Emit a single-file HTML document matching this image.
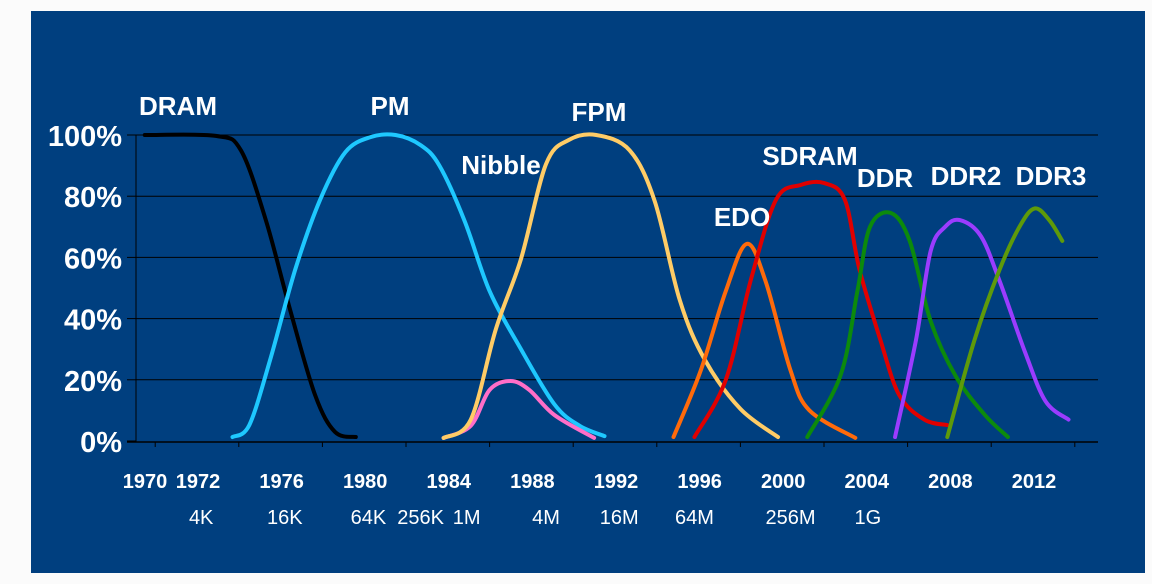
<!DOCTYPE html>
<html><head><meta charset="utf-8"><style>
html,body{margin:0;padding:0;background:#fbfbfb;}
svg{display:block;font-family:"Liberation Sans",sans-serif;}
</style></head><body>
<svg width="1152" height="584" viewBox="0 0 1152 584">
<rect x="31" y="11" width="1114" height="562" fill="#003F7F"/>
<g id="grid"></g>
<g id="axes"></g>
<g id="series"></g>
<g id="labels"></g>
</svg>
<script>
const yTicks = [0,20,40,60,80,100];
const yTickLabels = ["0%","20%","40%","60%","80%","100%"];
const xTickYears = [1970,1972,1976,1980,1984,1988,1992,1996,2000,2004,2008,2012];
const capacityLabels = ["4K","16K","64K","256K","1M","4M","16M","64M","256M","1G"];
const capacityYears = [1972.2,1976.2,1980.2,1982.7,1984.9,1988.7,1992.2,1995.8,2000.4,2004.1];

const seriesNames = ["DRAM","PM","Nibble","FPM","EDO","SDRAM","DDR","DDR2","DDR3"];
const seriesColors = ["#000000","#1EC8FF","#FF6EC8","#FFCC66","#FF6A0A","#E00000","#0C8A0C","#9B3CFF","#5E9A0A"];
const dramYears=[1969.5,1972.9,1974.1,1975.3,1976.45,1977.65,1978.6,1979.6];
const dramPct=[100,99.7,95,72,43,15,3,1.3];
const pmYears=[1973.7,1974.5,1975.5,1976.7,1977.9,1979.1,1980.3,1981.5,1982.7,1983.6,1984.8,1986.0,1987.5,1989.1,1990.3,1991.5];
const pmPct=[1.3,5.2,26.5,56,79,94.4,99.3,100,96.7,90,72,49,30,12,5,1.6];
const nibbleYears=[1983.8,1985.1,1986.0,1987.0,1987.9,1989.1,1991.0];
const nibblePct=[1,5,16.7,19.6,16.7,8.5,1];
const fpmYears=[1983.8,1985.1,1986.3,1987.5,1988.7,1989.8,1991.1,1992.7,1993.9,1995.1,1996.3,1998.0,1999.8];
const fpmPct=[1,7,36.6,59.5,90.5,98.4,100,95,78.4,46,26.5,10.5,1.3];
const edoYears=[1994.8,1996.1,1997.3,1998.3,1999.2,2000.4,2001.3,2003.5];
const edoPct=[1.3,23,49,64.4,52.3,23,10,1];
const sdramYears=[1995.8,1997.3,1998.5,1999.7,2000.9,2002.0,2003.0,2003.7,2004.7,2005.6,2006.8,2007.9];
const sdramPct=[1.3,20,52.6,78.8,83.7,84.3,78.8,56,33,15,7,5.2];
const ddrYears=[2001.2,2002.8,2003.6,2004.2,2005.2,2006.1,2007.1,2008.3,2009.7,2010.8];
const ddrPct=[1.3,21.6,49,70,74.5,65.4,39.2,21.2,8.5,1.3];
const ddr2Years=[2005.4,2006.4,2007.1,2007.8,2008.5,2009.5,2010.4,2011.6,2012.6,2013.7];
const ddr2Pct=[1.3,33,62,70,72.2,67,52.3,29.4,13,7];
const ddr3Years=[2007.9,2009.2,2010.4,2011.4,2012.1,2012.8,2013.4];
const ddr3Pct=[1.3,33,56,70.6,76,72,65.4];
const allYears=[dramYears,pmYears,nibbleYears,fpmYears,edoYears,sdramYears,ddrYears,ddr2Years,ddr3Years];
const allPct=[dramPct,pmPct,nibblePct,fpmPct,edoPct,sdramPct,ddrPct,ddr2Pct,ddr3Pct];

const NS="http://www.w3.org/2000/svg";
function X(yr){return 197+(yr-1972)*20.9;}
function Y(p){return 441-p*3.06;}
function mk(tag,attrs,parent){const e=document.createElementNS(NS,tag);for(const k in attrs)e.setAttribute(k,attrs[k]);parent.appendChild(e);return e;}
const grid=document.getElementById('grid'),axes=document.getElementById('axes'),series=document.getElementById('series'),labels=document.getElementById('labels');

yTicks.forEach((t,i)=>{
  if(t>0){const g=mk('line',{x1:136,x2:1098,y1:Y(t),y2:Y(t),stroke:'#000','stroke-width':1},grid);
  
  }
  const tk=mk('line',{x1:127,x2:136,y1:Y(t),y2:Y(t),stroke:'#000','stroke-width':1},axes);
  
  
  const tx=mk('text',{x:122,y:Y(t)+11,'text-anchor':'end',fill:'#fff','font-size':29,'font-weight':'bold'},labels);
  tx.textContent=yTickLabels[i];
  
  
});
const ya=mk('line',{x1:136,x2:136,y1:Y(100),y2:Y(0)+1,stroke:'#000','stroke-width':1},axes);


const xa=mk('line',{x1:127,x2:1098,y1:Y(0)+1,y2:Y(0)+1,stroke:'#000','stroke-width':1.5},axes);


for(let yr=1970;yr<=2014;yr+=4){
  const tk=mk('line',{x1:X(yr),x2:X(yr),y1:442,y2:447,stroke:'#000','stroke-width':1},axes);
  
  
}
xTickYears.forEach(yr=>{
  const t=mk('text',{x:(yr===1970?145:X(yr)+1),y:488,'text-anchor':'middle',fill:'#fff','font-size':20,'font-weight':'bold'},labels);
  t.textContent=String(yr);
  
  
});
capacityLabels.forEach((c,i)=>{
  const t=mk('text',{x:X(capacityYears[i]),y:524,'text-anchor':'middle',fill:'#fff','font-size':20},labels);
  t.textContent=c;
  
  
});
function smooth(pts){
  let d='M'+pts[0][0]+','+pts[0][1];
  for(let i=0;i<pts.length-1;i++){
    const p0=pts[Math.max(0,i-1)],p1=pts[i],p2=pts[i+1],p3=pts[Math.min(pts.length-1,i+2)];
    const c1=[p1[0]+(p2[0]-p0[0])/6,p1[1]+(p2[1]-p0[1])/6];
    const c2=[p2[0]-(p3[0]-p1[0])/6,p2[1]-(p3[1]-p1[1])/6];
    d+=' C'+c1[0].toFixed(1)+','+c1[1].toFixed(1)+' '+c2[0].toFixed(1)+','+c2[1].toFixed(1)+' '+p2[0].toFixed(1)+','+p2[1].toFixed(1);
  }
  return d;
}
const lblXY=[[178,115],[390,115],[501,174],[599,121],[742,226],[810,165],[885,187],[966,185],[1051,185]];
seriesNames.forEach((n,i)=>{
  const pts=allYears[i].map((yr,j)=>[X(yr),Y(allPct[i][j])]);
  const p=mk('path',{d:smooth(pts),fill:'none',stroke:seriesColors[i],'stroke-width':4,'stroke-linecap':'round','stroke-linejoin':'round'},series);
  
  
  const t=mk('text',{x:lblXY[i][0],y:lblXY[i][1],'text-anchor':'middle',fill:'#fff','font-size':26,'font-weight':'bold'},labels);
  t.textContent=n;
  
  
});
</script>
</body></html>
